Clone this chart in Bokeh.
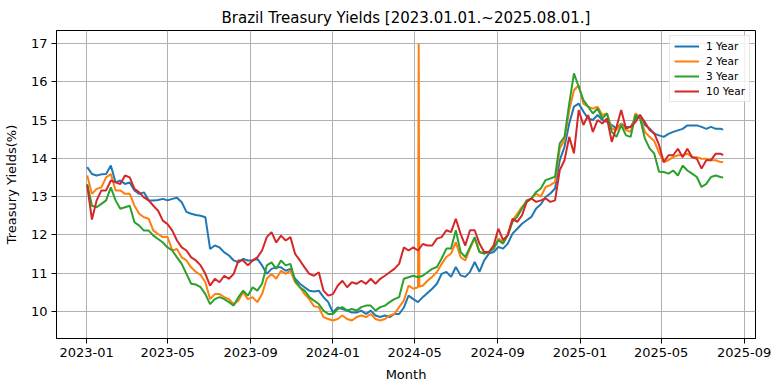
import datetime as dt
import pandas as pd
from bokeh.plotting import figure
from bokeh.models import Range1d, FixedTicker, DatetimeTickFormatter, Legend, LegendItem
from bokeh.embed import file_html
from bokeh.resources import INLINE

# ---- data (weekly samples) ----
week_start = "2023-01-02"
n_weeks = 135
last_date = "2025-08-01"

yield_1y = [
    13.77, 13.59, 13.55, 13.58, 13.59, 13.81, 13.37, 13.42, 13.33, 13.37, 13.16, 13.07, 13.11, 12.9, 12.9,
    12.91, 12.94, 12.9, 12.94, 12.97, 12.85, 12.6, 12.55, 12.52, 12.5,
    12.46, 11.63, 11.72, 11.67, 11.54, 11.46, 11.33, 11.28, 11.37, 11.33, 11.33, 11.37, 11.2, 10.98, 11.11,
    11.15, 11.15, 11.06, 11.11, 10.85, 10.72, 10.63, 10.54,
    10.52, 10.54, 10.37, 10.24, 9.97, 10.1, 10.06, 10.02, 9.97, 9.97, 10.02, 9.93, 10.02, 9.89, 9.85, 9.89,
    9.85, 9.93, 9.93, 10.1, 10.41, 10.32, 10.24, 10.37,
    10.48, 10.59, 10.72, 10.98, 11.03, 10.9, 11.16, 10.94, 10.9, 11.03, 11.29, 11.03, 11.33, 11.51, 11.55,
    11.68, 11.64, 11.77, 12.03, 12.16, 12.29, 12.38, 12.47, 12.69,
    12.8, 12.99, 13.08, 13.21, 13.95, 14.3, 14.91, 15.35, 15.43, 15.22, 15.04, 15.0, 15.13, 15.0, 14.95,
    14.87, 14.78, 14.91, 14.82, 14.82, 15.04, 15.13, 14.87, 14.78,
    14.64, 14.6, 14.56, 14.64, 14.69, 14.73, 14.77, 14.86, 14.86, 14.86, 14.82, 14.77, 14.82, 14.77, 14.77, 14.75,
]
yield_2y = [
    13.55, 13.07, 13.2, 13.24, 13.5, 13.59, 13.16, 13.16, 13.07, 13.07, 12.76, 12.55, 12.46, 12.42, 12.11,
    12.02, 11.94, 11.94, 11.59, 11.63, 11.41, 11.33, 11.15, 11.03, 10.95,
    10.76, 10.32, 10.45, 10.45, 10.37, 10.32, 10.19, 10.28, 10.5, 10.32, 10.37, 10.24, 10.45, 10.85, 10.98,
    10.85, 11.06, 10.98, 11.06, 10.76, 10.63, 10.45, 10.32,
    10.13, 10.11, 9.85, 9.8, 9.76, 9.8, 9.89, 9.8, 9.76, 9.85, 9.89, 9.85, 9.93, 9.8, 9.76, 9.8,
    9.89, 9.93, 10.11, 10.28, 10.67, 10.59, 10.63, 10.67,
    10.8, 10.9, 11.03, 11.24, 11.42, 11.51, 11.81, 11.42, 11.33, 11.64, 11.9, 11.55, 11.51, 11.55, 11.64,
    11.9, 11.81, 12.03, 12.38, 12.55, 12.73, 12.86, 12.95, 13.08,
    13.0, 13.25, 13.3, 13.38, 14.26, 14.47, 15.26, 15.78, 15.91, 15.43, 15.35, 15.3, 15.35, 15.13, 15.17,
    14.78, 14.74, 14.91, 14.74, 14.69, 15.17, 15.08, 14.69, 14.56,
    14.45, 14.15, 13.9, 13.95, 14.03, 14.08, 14.08, 14.12, 14.03, 14.03, 13.99, 13.99, 13.95, 13.95, 13.9, 13.9,
]
yield_3y = [
    13.33, 12.76, 12.72, 12.81, 12.9, 13.24, 12.9, 12.68, 12.72, 12.76, 12.33, 12.24, 12.11, 12.11, 11.98,
    11.89, 11.8, 11.67, 11.59, 11.41, 11.24, 10.98, 10.72, 10.7, 10.63,
    10.45, 10.19, 10.32, 10.37, 10.32, 10.24, 10.15, 10.37, 10.54, 10.41, 10.63, 10.54, 10.72, 11.2, 11.28,
    11.11, 11.33, 11.2, 11.24, 10.8, 10.63, 10.54, 10.37,
    10.28, 10.19, 10.02, 9.93, 9.93, 10.06, 10.11, 10.02, 10.06, 10.02, 10.11, 10.15, 10.15, 10.02, 10.11, 10.15,
    10.24, 10.32, 10.37, 10.85, 10.89, 10.93, 10.89, 10.93,
    11.02, 11.11, 11.16, 11.38, 11.64, 11.64, 12.12, 11.55, 11.42, 11.68, 11.94, 11.55, 11.51, 11.55, 11.64,
    11.86, 11.77, 11.99, 12.34, 12.47, 12.69, 12.9, 12.95, 13.12,
    13.21, 13.43, 13.47, 13.52, 14.39, 14.56, 15.43, 16.22, 15.87, 15.52, 15.35, 15.17, 15.3, 15.04, 15.17,
    14.69, 14.56, 14.87, 14.6, 14.56, 15.13, 15.04, 14.52, 14.26,
    14.12, 13.65, 13.64, 13.6, 13.68, 13.55, 13.81, 13.68, 13.6, 13.51, 13.25, 13.33, 13.51, 13.55, 13.51, 13.5,
]
yield_10y = [
    13.29, 12.4, 12.9, 13.16, 13.16, 13.42, 13.37, 13.33, 13.55, 13.5, 13.2, 13.11, 12.98, 12.9, 12.76,
    12.63, 12.37, 12.28, 12.11, 11.85, 11.67, 11.59, 11.41, 11.33, 11.2,
    10.98, 10.67, 10.85, 10.76, 10.93, 10.85, 10.98, 11.33, 11.33, 11.2, 11.33, 11.41, 11.59, 11.94, 12.07,
    11.8, 11.98, 11.85, 11.94, 11.5, 11.33, 11.15, 10.98,
    10.93, 11.02, 10.54, 10.41, 10.45, 10.67, 10.8, 10.63, 10.76, 10.72, 10.8, 10.72, 10.85, 10.72, 10.85, 10.93,
    11.02, 11.11, 11.24, 11.67, 11.59, 11.67, 11.59, 11.76,
    11.72, 11.72, 11.9, 11.94, 12.12, 12.07, 12.42, 12.03, 11.72, 12.12, 12.12, 11.77, 11.55, 11.55, 11.72,
    12.16, 11.86, 11.99, 12.42, 12.34, 12.51, 12.86, 12.95, 12.86,
    12.9, 12.95, 12.86, 12.9, 13.69, 13.95, 14.56, 14.13, 15.26, 14.87, 15.13, 14.69, 15.0, 14.91, 15.04,
    14.43, 14.82, 15.26, 14.78, 14.82, 14.95, 15.13, 14.95, 14.74,
    14.65, 14.35, 13.9, 14.08, 14.08, 14.25, 14.03, 14.25, 14.03, 13.99, 13.73, 13.95, 13.95, 14.12, 14.12, 14.08,
]
# one-day spike in the 2-year series
spike_dates = ["2024-05-07", "2024-05-08"]
spike_values = [17.0, 10.65]

series_labels = ["1 Year", "2 Year", "3 Year", "10 Year"]
series_colors = ["#1f77b4", "#ff7f0e", "#2ca02c", "#d62728"]

x_ticks = ["2023-01-01", "2023-05-01", "2023-09-01", "2024-01-01", "2024-05-01",
           "2024-09-01", "2025-01-01", "2025-05-01", "2025-09-01"]
y_ticks = [10, 11, 12, 13, 14, 15, 16, 17]

# ---- build ----
dates = pd.date_range(week_start, periods=n_weeks, freq="7D").append(pd.DatetimeIndex([last_date]))

s2 = pd.concat([pd.Series(yield_2y, index=dates),
                pd.Series(spike_values, index=pd.DatetimeIndex(spike_dates))]).sort_index()

series = [
    (dates, yield_1y),
    (s2.index, list(s2.values)),
    (dates, yield_3y),
    (dates, yield_10y),
]

FONT = "DejaVu Sans"

p = figure(frame_width=699, frame_height=308, x_axis_type="datetime",
           output_backend="svg", toolbar_location=None,
           x_range=Range1d(dt.datetime(2022, 11, 17, 12), dt.datetime(2025, 9, 17, 22)),
           y_range=Range1d(9.29, 17.34),
           min_border_left=49, min_border_right=25, min_border_top=30, min_border_bottom=40)

p.background_fill_color = "white"
p.border_fill_color = "white"
p.outline_line_color = "black"
p.outline_line_width = 1

p.title.text = "Brazil Treasury Yields [2023.01.01.~2025.08.01.]"
p.title.align = "center"
p.title.text_font = FONT
p.title.text_font_size = "15px"
p.title.text_font_style = "normal"
p.title.text_color = "black"
p.title.standoff = 7

renderers = []
for (xs, ys), col in zip(series, series_colors):
    r = p.line(x=list(xs), y=list(ys), line_color=col, line_width=2)
    renderers.append(r)

p.xaxis.ticker = FixedTicker(ticks=[pd.Timestamp(t).value / 1e6 for t in x_ticks])
fmt = "%Y-%m"
p.xaxis.formatter = DatetimeTickFormatter(days=fmt, months=fmt, years=fmt, hours=fmt, minutes=fmt)
p.yaxis.ticker = FixedTicker(ticks=y_ticks)

for ax in (p.xaxis, p.yaxis):
    ax.axis_line_color = "black"
    ax.major_tick_line_color = "black"
    ax.major_tick_out = 5
    ax.major_tick_in = 0
    ax.minor_tick_line_color = None
    ax.major_label_text_font = FONT
    ax.major_label_text_font_size = "13px"
    ax.major_label_text_color = "black"
    ax.axis_label_text_font = FONT
    ax.axis_label_text_font_size = "13px"
    ax.axis_label_text_font_style = "normal"
    ax.axis_label_text_color = "black"

p.xaxis.axis_label = "Month"
p.yaxis.axis_label = "Treasury Yields(%)"
p.xaxis.major_label_standoff = 4
p.xaxis.axis_label_standoff = 7
p.yaxis.major_label_standoff = 4
p.yaxis.axis_label_standoff = 9

for g in (p.xgrid, p.ygrid):
    g.grid_line_color = "#b0b0b0"
    g.grid_line_width = 1
p.xgrid.ticker = p.xaxis.ticker
p.ygrid.ticker = p.yaxis.ticker

legend = Legend(items=[LegendItem(label=l, renderers=[r]) for l, r in zip(series_labels, renderers)],
                location="top_right")
legend.margin = 5
legend.padding = 4
legend.spacing = 3
legend.glyph_width = 25
legend.glyph_height = 12
legend.label_height = 12
legend.label_standoff = 7
legend.label_text_font = FONT
legend.label_text_font_size = "10.5px"
legend.label_text_color = "black"
legend.border_line_color = "#cccccc"
legend.border_line_width = 1
legend.background_fill_alpha = 0.8
p.add_layout(legend)

open("out.html", "w").write(file_html(p, INLINE))
